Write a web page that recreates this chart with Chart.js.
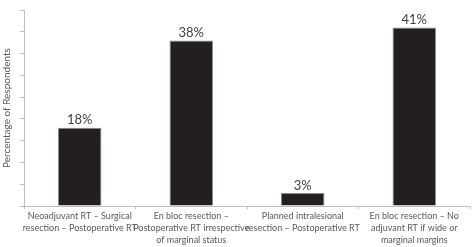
<!DOCTYPE html>
<html>
<head>
<meta charset="utf-8">
<script src="https://cdn.jsdelivr.net/npm/chart.js@4"></script>
<style>
  html, body { margin: 0; padding: 0; background: #fff; }
  #wrap { width: 472px; height: 247px; }
</style>
</head>
<body>
<div id="wrap"><canvas id="surveyChart"></canvas></div>
<script>
// categories and values
const categories = [
    ['Neoadjuvant RT \u2013 Surgical', 'resection \u2013 Postoperative RT'],
    ['En bloc resection \u2013', 'Postoperative RT irrespective', 'of marginal status'],
    ['Planned intralesional', 'resection \u2013 Postoperative RT'],
    ['En bloc resection \u2013 No', 'adjuvant RT if wide or', 'marginal margins']
];
const percentages = [18, 38, 3, 41];
const yTicks = [0, 5, 10, 15, 20, 25, 30, 35, 40, 45];

// value labels above the bars
const barLabels = {
    id: 'barLabels',
    afterDatasetsDraw(chart) {
        const ctx = chart.ctx;
        const meta = chart.getDatasetMeta(0);
        ctx.save();
        ctx.font = '13px Lato, "Liberation Sans", sans-serif';
        ctx.fillStyle = '#404040';
        ctx.textAlign = 'center';
        ctx.textBaseline = 'bottom';
        meta.data.forEach((bar, i) => {
            ctx.fillText(percentages[i] + '%', bar.x, bar.y - 1);
        });
        ctx.restore();
    }
};

const ctx = document.getElementById('surveyChart').getContext('2d');
const surveyChart = new Chart(ctx, {
    type: 'bar',
    data: {
        labels: categories,
        datasets: [{
            data: percentages,
            backgroundColor: '#231f20',
            borderColor: '#8c8c8c',
            borderWidth: 1,
            barPercentage: 0.39,
            categoryPercentage: 1
        }]
    },
    options: {
        responsive: true,
        maintainAspectRatio: false,
        animation: false,
        layout: { padding: { top: 10, right: 2, left: 0, bottom: 0 } },
        plugins: {
            legend: { display: false },
            tooltip: { enabled: false }
        },
        scales: {
            x: {
                border: { color: '#bfbfbf' },
                grid: { drawOnChartArea: false, offset: true, tickLength: 3, color: '#bfbfbf' },
                ticks: {
                    color: '#595959',
                    font: { family: 'Lato, "Liberation Sans", sans-serif', size: 9, lineHeight: 1.33 },
                    maxRotation: 0,
                    autoSkip: false,
                    padding: 1
                }
            },
            y: {
                min: 0,
                max: 45,
                afterBuildTicks(axis) { axis.ticks = yTicks.map(v => ({ value: v })); },
                border: { color: '#bfbfbf' },
                grid: { drawOnChartArea: false, tickLength: 4, color: '#bfbfbf' },
                ticks: { display: false },
                title: {
                    display: true,
                    text: 'Percentage of Respondents',
                    color: '#595959',
                    font: { family: 'Lato, "Liberation Sans", sans-serif', size: 10 },
                    padding: { top: 1, bottom: 7 }
                }
            }
        }
    },
    plugins: [barLabels]
});
</script>
</body>
</html>
